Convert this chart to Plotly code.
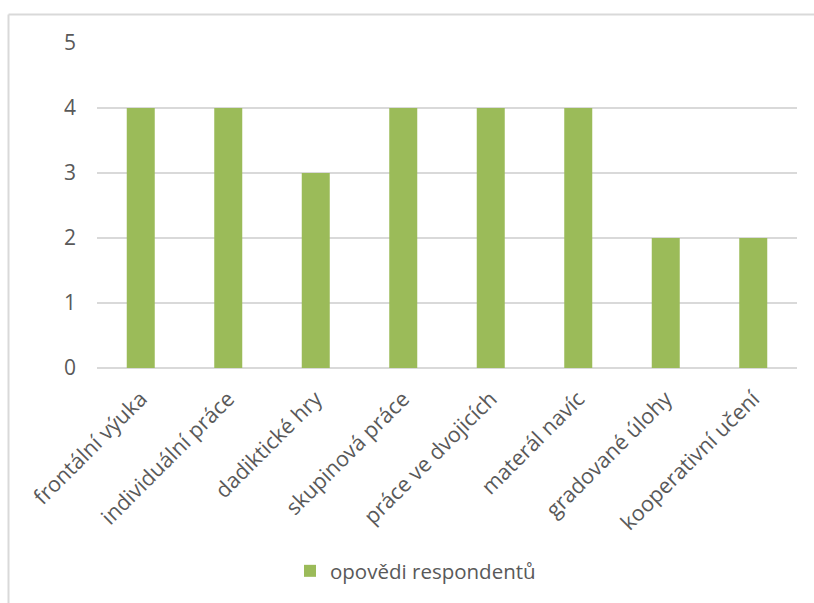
import plotly.graph_objects as go

categories = [
    "frontální výuka",
    "individuální práce",
    "dadiktické hry",
    "skupinová práce",
    "práce ve dvojicích",
    "materál navíc",
    "gradované úlohy",
    "kooperativní učení",
]
values = [4, 4, 3, 4, 4, 4, 2, 2]
series_name = "opovědi respondentů"
y_ticks = [0, 1, 2, 3, 4, 5]

GREEN = "#9BBB59"
TEXT = "#595959"
GRID = "#D9D9D9"
FONT = "Open Sans"

W, H = 814, 603
L, R, T, B = 97, 17, 43, 235
pw, ph = W - L - R, H - T - B


def px_x(x):
    return (x - L) / pw


def px_y(y):
    return (H - B - y) / ph


fig = go.Figure()
fig.add_trace(go.Bar(
    x=categories,
    y=values,
    name=series_name,
    marker=dict(color=GREEN, line=dict(width=0)),
    width=0.32,
))

fig.update_layout(
    width=W,
    height=H,
    margin=dict(l=L, r=R, t=T, b=B),
    paper_bgcolor="white",
    plot_bgcolor="white",
    font=dict(family=FONT, size=20, color=TEXT),
    showlegend=True,
    legend=dict(
        orientation="h",
        x=px_x(290),
        xanchor="left",
        y=px_y(571),
        yanchor="middle",
        font=dict(family=FONT, size=20.5, color=TEXT),
        itemwidth=30,
    ),
    xaxis=dict(
        tickangle=-45,
        showgrid=False,
        showline=False,
        ticks="",
        ticklabelstandoff=13,
        tickfont=dict(family=FONT, size=21.5, color=TEXT),
    ),
    yaxis=dict(
        range=[0, 5],
        tickvals=y_ticks,
        showgrid=True,
        gridcolor=GRID,
        gridwidth=1.5,
        zeroline=True,
        zerolinecolor=GRID,
        zerolinewidth=1.5,
        showline=False,
        ticks="",
        ticklabelstandoff=20,
        tickfont=dict(family=FONT, size=21, color=TEXT),
    ),
    shapes=[
        dict(type="line", xref="paper", yref="paper",
             x0=px_x(8.5), x1=px_x(W + 5), y0=px_y(14.5), y1=px_y(14.5),
             line=dict(color=GRID, width=2)),
        dict(type="line", xref="paper", yref="paper",
             x0=px_x(8.5), x1=px_x(8.5), y0=px_y(14.5), y1=px_y(H + 5),
             line=dict(color=GRID, width=2)),
    ],
)

fig.write_html("out.html")
